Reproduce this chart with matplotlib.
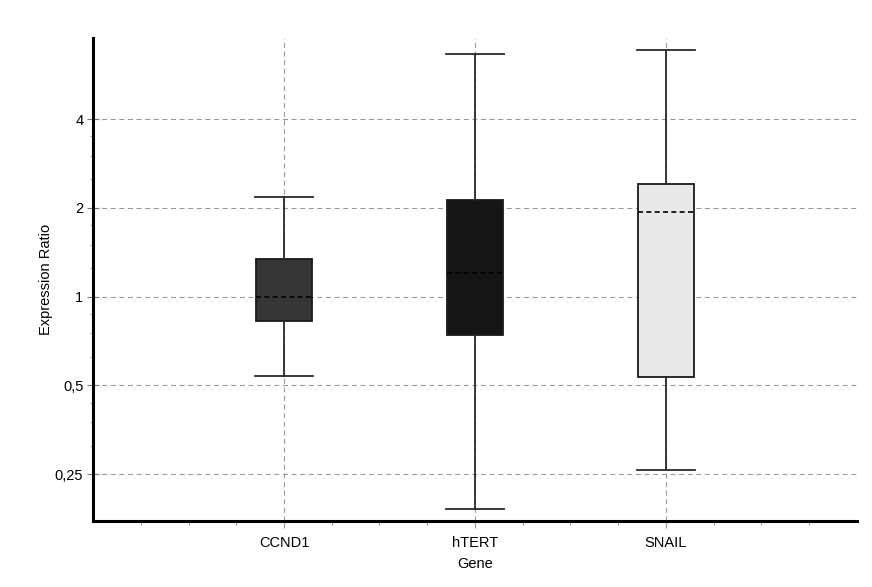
import matplotlib
matplotlib.use("Agg")
import matplotlib.pyplot as plt
from matplotlib.ticker import FixedLocator, NullFormatter

plt.rcParams['font.family'] = ['Liberation Sans', 'DejaVu Sans']
plt.rcParams['lines.scale_dashes'] = False

# Expression ratio summary per gene
genes = ["CCND1", "hTERT", "SNAIL"]
whisker_low = [0.54, 0.19, 0.258]
q1 = [0.83, 0.742, 0.536]
median = [1.0, 1.2, 1.93]
q3 = [1.34, 2.13, 2.40]
whisker_high = [2.17, 6.64, 6.84]
box_colors = ["#363636", "#151515", "#e9e9e9"]

y_ticks = [0.25, 0.5, 1, 2, 4]
y_tick_labels = ["0,25", "0,5", "1", "2", "4"]

fig = plt.figure(figsize=(8.72, 5.87), dpi=100)
ax = fig.add_axes([0.1067, 0.113, 0.876, 0.822])

stats = []
for i, g in enumerate(genes):
    stats.append(dict(label=g, whislo=whisker_low[i], q1=q1[i], med=median[i],
                      q3=q3[i], whishi=whisker_high[i], fliers=[]))

positions = list(range(1, len(genes) + 1))
dash = (0, (3.6, 2.4))
bp = ax.bxp(stats, positions=positions, widths=0.295, capwidths=0.3,
            patch_artist=True, showfliers=False,
            boxprops=dict(edgecolor="#1a1a1a", linewidth=1.3),
            whiskerprops=dict(color="#2a2a2a", linewidth=1.3),
            capprops=dict(color="#2a2a2a", linewidth=1.3),
            medianprops=dict(color="black", linewidth=1.2, linestyle=dash),
            zorder=3)
for patch, c in zip(bp['boxes'], box_colors):
    patch.set_facecolor(c)

ax.set_yscale('log', base=2)
ax.set_ylim(0.174, 7.52)
ax.set_xlim(0, 4)

ax.yaxis.set_major_locator(FixedLocator(y_ticks))
ax.set_yticklabels(y_tick_labels)
minor_y = []
for base in [0.25, 0.5, 1, 2]:
    minor_y += [base * 1.25, base * 1.5, base * 1.75]
ax.yaxis.set_minor_locator(FixedLocator(minor_y))
ax.yaxis.set_minor_formatter(NullFormatter())

ax.set_xticks(positions)
ax.set_xticklabels(genes)
ax.xaxis.set_minor_locator(FixedLocator([k * 0.25 for k in range(1, 16) if k % 4 != 0]))

ax.grid(True, which='major', color='#9a9a9a', linestyle=(0, (3.6, 2.6)), linewidth=0.8, zorder=0)
ax.set_axisbelow(True)

for s in ['top', 'right']:
    ax.spines[s].set_visible(False)
for s in ['left', 'bottom']:
    ax.spines[s].set_linewidth(2.2)
    ax.spines[s].set_color('black')

ax.tick_params(axis='y', which='major', direction='inout', length=8, width=0.8,
               color='#777777', labelsize=10.5, pad=3)
ax.tick_params(axis='y', which='minor', direction='out', length=2.5, width=0.8, color='#999999')
ax.tick_params(axis='x', which='major', direction='out', length=5, width=0.8,
               color='#999999', labelsize=10.5, pad=6)
ax.tick_params(axis='x', which='minor', direction='out', length=3, width=0.8, color='#999999')

ax.set_xlabel("Gene", fontsize=10.5, labelpad=5)
ax.set_ylabel("Expression Ratio", fontsize=10.5, labelpad=1)

fig.savefig("out.png", dpi=100)
